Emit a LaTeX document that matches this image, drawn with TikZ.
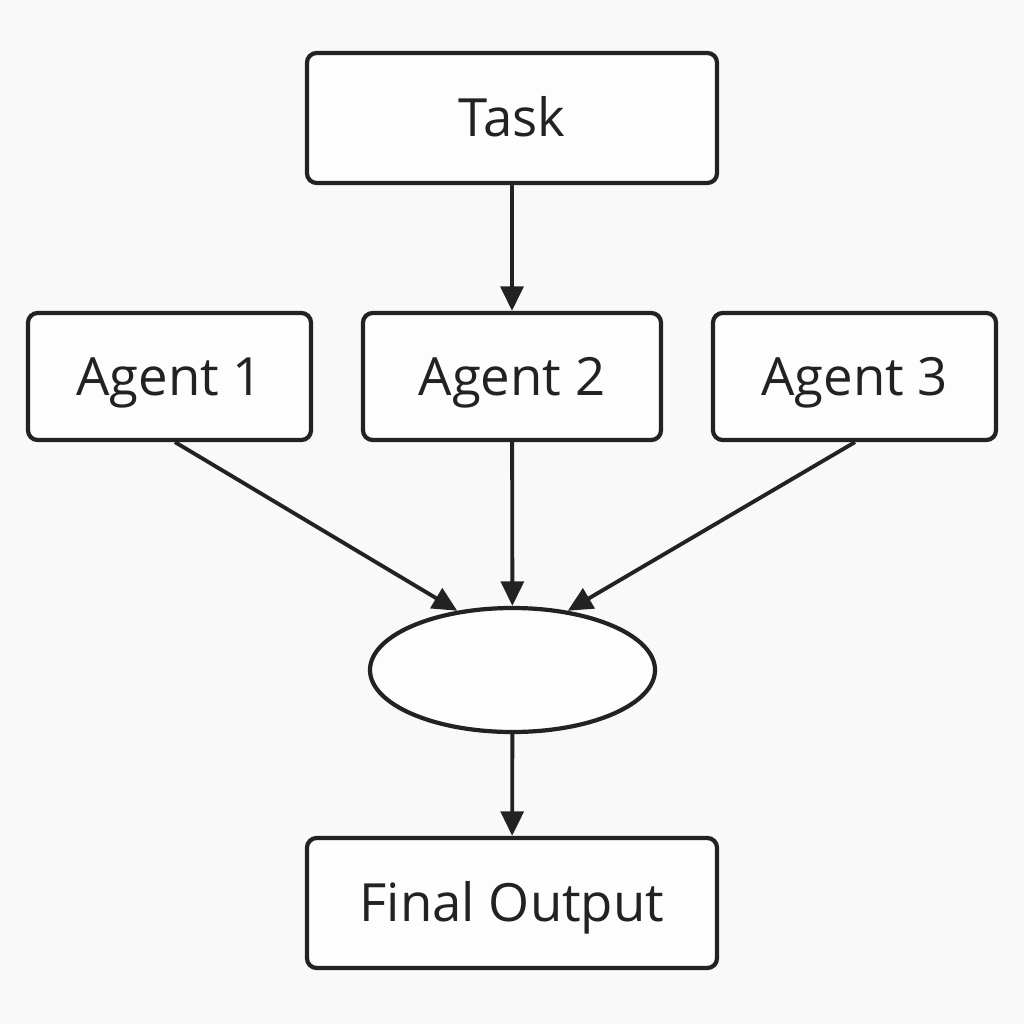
\documentclass[tikz,border=0pt]{standalone}
\usepackage{fontspec}
\setmainfont{Open Sans}
\usetikzlibrary{arrows.meta,shapes.geometric}
\definecolor{ink}{HTML}{222222}
\definecolor{bg}{HTML}{F9F9F9}
\definecolor{boxfill}{HTML}{FDFDFD}
\tikzset{
  box/.style={draw=ink, line width=2.4pt, rounded corners=5.5pt, fill=boxfill, inner sep=0pt, font=\fontsize{30}{36}\selectfont, text=ink, text height=21.4pt, text depth=0pt},
  conn/.style={draw=ink, line width=2.2pt, -{Triangle[length=14pt,width=13pt]}},
}
\begin{document}
\begin{tikzpicture}[x=0.02cm,y=-0.02cm]
\fill[bg] (0,0) rectangle (1024,1024);
\useasboundingbox (0,0) rectangle (1024,1024);
\node[box, minimum width=410*0.02cm, minimum height=130*0.02cm] (task) at (512,118) {Task};
\node[box, minimum width=283*0.02cm, minimum height=127*0.02cm] (a1) at (169.5,376.5) {Agent 1};
\node[box, minimum width=298*0.02cm, minimum height=127*0.02cm] (a2) at (512,376.5) {Agent 2};
\node[box, minimum width=283*0.02cm, minimum height=127*0.02cm] (a3) at (854.5,376.5) {Agent 3};
\node[draw=ink, line width=2.4pt, fill=boxfill, ellipse, minimum width=285*0.02cm, minimum height=124*0.02cm, inner sep=0pt] (ell) at (512.5,670) {};
\node[box, minimum width=410*0.02cm, minimum height=130*0.02cm] (out) at (512,903) {Final Output};
\coordinate (a1s) at (175,440);
\coordinate (a3s) at (855,440);
\draw[conn] (task) -- (a2);
\draw[conn] (a1.south -| a1s) -- (ell.133);
\draw[conn] (a2) -- (ell);
\draw[conn] (a3.south -| a3s) -- (ell.47);
\draw[conn] (ell) -- (out);
\end{tikzpicture}
\end{document}
